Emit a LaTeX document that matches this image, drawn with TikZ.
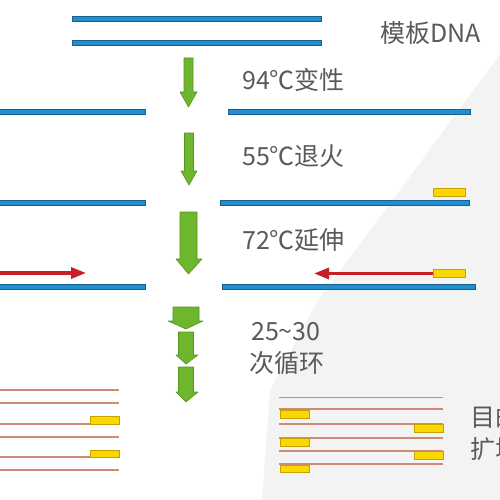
\documentclass[tikz,border=0pt]{standalone}
\usepackage{fontspec}
\newfontfamily\cjk{Noto Sans CJK SC}
\usetikzlibrary{arrows.meta}
\definecolor{dnablue}{HTML}{1F8FD2}
\definecolor{dnaedge}{HTML}{1A5E8C}
\definecolor{agreen}{HTML}{6DB62E}
\definecolor{agreenedge}{HTML}{56961F}
\definecolor{pred}{HTML}{C81E2A}
\definecolor{pyellow}{HTML}{F8D800}
\definecolor{pyedge}{HTML}{C9A000}
\definecolor{prodline}{HTML}{D08A70}
\definecolor{txtgrey}{HTML}{5A5A5A}
\definecolor{wmgrey}{HTML}{F3F3F3}
\tikzset{
  strand/.style={fill=dnablue,draw=dnaedge,line width=0.6pt},
  garrow/.style={fill=agreen,draw=agreenedge,line width=0.6pt,line join=round},
  redarrow/.style={draw=pred,line width=3.2pt,-{Triangle[length=15pt,width=11pt]}},
  primer/.style={fill=pyellow,draw=pyedge,line width=0.6pt},
  prod/.style={draw=prodline,line width=1.4pt},
  lbl/.style={anchor=west,inner sep=0pt,text=txtgrey,font=\cjk\fontsize{25}{29}\selectfont},
}
\begin{document}
\begin{tikzpicture}[x=1pt,y=-1pt]
\useasboundingbox (0,0) rectangle (500,500);
\fill[white] (0,0) rectangle (500,500);
% faint background watermark
\fill[wmgrey] (262,500) -- (270,390) -- (318,300) -- (400,190) -- (470,95) -- (500,55) -- (500,500) -- cycle;

% template DNA
\filldraw[strand] (72,16.5) rectangle (321,21.5);
\filldraw[strand] (72,40.5) rectangle (321,45.5);
\node[lbl] (tmpl) at (380,33) {模板DNA};

% arrow 1
\filldraw[garrow] (184,58) -- (193,58) -- (193,92) -- (197,92) -- (188.5,107) -- (180,92) -- (184,92) -- cycle;
\node[lbl] (den) at (242,80) {94℃变性};

% denatured strands
\filldraw[strand] (-2,109.5) rectangle (145,114.5);
\filldraw[strand] (228,109.5) rectangle (470,114.5);

% arrow 2
\filldraw[garrow] (184.5,133) -- (193.5,133) -- (193.5,171) -- (197,171) -- (189,185) -- (181,171) -- (184.5,171) -- cycle;
\node[lbl] (ann) at (242,156) {55℃退火};

% annealed
\filldraw[strand] (-2,200.5) rectangle (145,205.5);
\filldraw[strand] (220,200.5) rectangle (469,205.5);
\filldraw[primer] (433,188) rectangle (465,196);

% arrow 3
\filldraw[garrow] (180,212) -- (197,212) -- (197,259) -- (202,259) -- (188.5,274) -- (176,259) -- (180,259) -- cycle;
\node[lbl] (ext) at (242,240) {72℃延伸};

% extension
\filldraw[strand] (-2,284.5) rectangle (145,289.5);
\filldraw[strand] (222,284.5) rectangle (475,289.5);
\coordinate (l1) at (-2,273);
\coordinate (l2) at (86,273);
\coordinate (r1) at (434,273.5);
\coordinate (r2) at (314,273.5);
\draw[redarrow] (l1) -- (l2);
\draw[redarrow] (r1) -- (r2);
\filldraw[primer] (433,269) rectangle (465,277.5);

% arrows 4-6
\filldraw[garrow] (173,307) -- (199,307) -- (199,321) -- (203,321) -- (186,329) -- (168,321) -- (173,321) -- cycle;
\filldraw[garrow] (178.5,332) -- (193.5,332) -- (193.5,355) -- (198,355) -- (186,364) -- (176,355) -- (178.5,355) -- cycle;
\filldraw[garrow] (178.5,367) -- (193.5,367) -- (193.5,392) -- (198,392) -- (186,402) -- (176,392) -- (178.5,392) -- cycle;
\node[lbl] (cyc1) at (251,332) {25{\char"7E}30};
\node[lbl] (cyc2) at (249,363) {次循环};

% products left
\foreach \y in {390,403,424,437,457,470} \draw[prod] (-2,\y) -- (119,\y);
\filldraw[primer] (90,416) rectangle (119,424);
\filldraw[primer] (90,450) rectangle (119,457.5);

% products right
\foreach \y in {397.5,409,424,438,451,464} \draw[prod] (279,\y) -- (443,\y);
\filldraw[primer] (280,410) rectangle (309,418);
\filldraw[primer] (280,438.5) rectangle (309,446);
\filldraw[primer] (280,465) rectangle (309,472.5);
\filldraw[primer] (414.5,424.5) rectangle (443,432);
\filldraw[primer] (414.5,451.5) rectangle (443,459);
\node[lbl] (tgt1) at (470,417) {目的};
\node[lbl] (tgt2) at (470,449) {扩增};
\end{tikzpicture}
\end{document}
